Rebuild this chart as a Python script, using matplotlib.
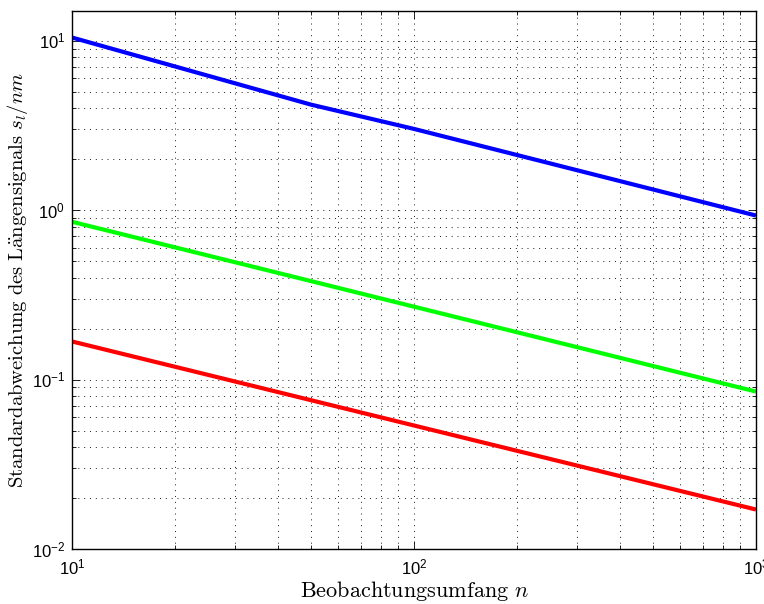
import matplotlib
matplotlib.use("Agg")
import matplotlib.pyplot as plt
from matplotlib.ticker import LogLocator, FuncFormatter, NullFormatter
import math

plt.rcParams['mathtext.fontset'] = 'custom'
plt.rcParams['mathtext.rm'] = 'Liberation Sans'
plt.rcParams['mathtext.it'] = 'Liberation Sans:italic'
plt.rcParams['mathtext.bf'] = 'Liberation Sans:bold'
plt.rcParams['mathtext.sf'] = 'Liberation Sans'

# Data
n_blue = [10, 50, 100, 1000]
s_blue = [10.46, 4.2, 3.02, 0.93]
n_green = [10, 1000]
s_green = [0.855, 0.085]
n_red = [10, 1000]
s_red = [0.168, 0.0171]

fig = plt.figure(figsize=(7.64, 6.04), dpi=100)
ax = fig.add_axes([72/764, 1-549/604, (756-72)/764, (549-11)/604])

ax.plot(n_blue, s_blue, color=(0, 0, 1), lw=3, solid_capstyle='butt')
ax.plot(n_green, s_green, color=(0, 1, 0), lw=3, solid_capstyle='butt')
ax.plot(n_red, s_red, color=(1, 0, 0), lw=3, solid_capstyle='butt')

ax.set_xscale('log')
ax.set_yscale('log')
ax.set_xlim(10, 1000)
ax.set_ylim(0.01, 15)

ax.xaxis.set_major_locator(LogLocator(base=10, numticks=10))
ax.yaxis.set_major_locator(LogLocator(base=10, numticks=10))
ax.xaxis.set_minor_locator(LogLocator(base=10, subs=range(2, 10), numticks=20))
ax.yaxis.set_minor_locator(LogLocator(base=10, subs=range(2, 10), numticks=20))
ax.xaxis.set_minor_formatter(NullFormatter())
ax.yaxis.set_minor_formatter(NullFormatter())

def fmt(v, pos):
    e = int(round(math.log10(v)))
    return r'$\mathrm{10}^{%d}$' % e if e >= 0 else r'$\mathrm{10}^{-%d}$' % (-e)
ax.xaxis.set_major_formatter(FuncFormatter(fmt))
ax.yaxis.set_major_formatter(FuncFormatter(fmt))

ax.tick_params(which='both', direction='in', top=True, right=True, labelsize=12)
ax.tick_params(which='major', length=6, width=0.6)
ax.tick_params(which='minor', length=3, width=0.6)
ax.tick_params(axis='x', which='major', pad=7)
ax.tick_params(axis='y', which='major', pad=5)

ax.grid(True, which='both', linestyle=(0, (1, 5)), color='black', lw=0.7, alpha=0.9)

for sp in ax.spines.values():
    sp.set_linewidth(1.0)

ax.set_xlabel(r'$\mathrm{Beobachtungsumfang}\ n$', fontsize=16, labelpad=0,
              math_fontfamily='cm')
ax.set_ylabel(r'$\mathrm{Standardabweichung\ des\ L\ddot{a}ngensignals}\ s_l/nm$',
              fontsize=14.8, labelpad=1, math_fontfamily='cm')

fig.savefig('out.png', dpi=100)
